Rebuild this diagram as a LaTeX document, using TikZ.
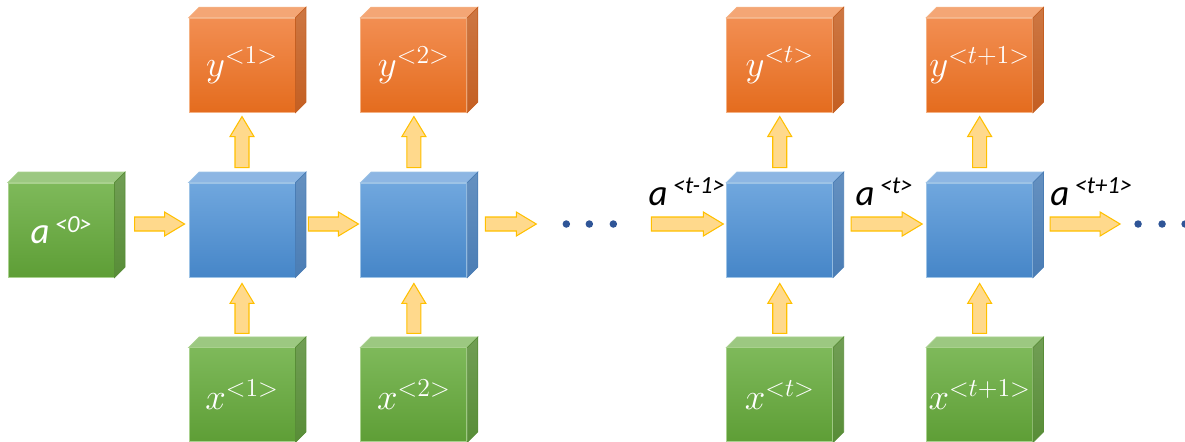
\documentclass[tikz,border=0pt]{standalone}
\usepackage{fix-cm}
\usepackage{fontspec}
\newfontfamily\calfont{Carlito}
\usetikzlibrary{positioning, calc}

\definecolor{orangehi}{HTML}{F28E52}
\definecolor{orangelo}{HTML}{E46C1E}
\definecolor{orangetop}{HTML}{F4A675}
\definecolor{orangeside}{HTML}{C45F22}
\definecolor{orangeedge}{HTML}{F4B183}
\definecolor{bluehi}{HTML}{70A7DE}
\definecolor{bluelo}{HTML}{4686C8}
\definecolor{bluetop}{HTML}{8DB6E3}
\definecolor{blueside}{HTML}{4A7DB5}
\definecolor{blueedge}{HTML}{9DC3E6}
\definecolor{greenhi}{HTML}{7EB95A}
\definecolor{greenlo}{HTML}{5E9E36}
\definecolor{greentop}{HTML}{9CC881}
\definecolor{greenside}{HTML}{588D37}
\definecolor{greenedge}{HTML}{A9D18E}
\definecolor{arrowfill}{HTML}{FFD98C}
\definecolor{arrowedge}{HTML}{FFC000}
\definecolor{dotblue}{HTML}{2F5597}

% top and right faces of a cube node
\newcommand\cubeside[2]{%
  \draw[fill=#2top, draw=#2edge, line width=0.4pt]
    (#1.north west) -- ++(0.21,0.21) -- ([shift={(0.21,0.21)}]#1.north east) -- (#1.north east) -- cycle;
  \draw[top color=#2side!85!white, bottom color=#2side, draw=#2side, line width=0.4pt]
    (#1.north east) -- ++(0.21,0.21) -- ([shift={(0.21,0.21)}]#1.south east) -- (#1.south east) -- cycle;}

% block arrow between two points
\newcommand\flowarrow[2]{%
  \path (#1) coordinate (fa-s) (#2) coordinate (fa-e);
  \draw[flow] let \p1=($(fa-e)-(fa-s)$), \n1={atan2(\y1,\x1)}, \n2={veclen(\x1,\y1)} in
    [shift={(fa-s)}, rotate=\n1]
    (0cm,-0.14cm) -- ({\n2-0.4cm},-0.14cm) -- ({\n2-0.4cm},-0.24cm) -- ({\n2},0cm)
    -- ({\n2-0.4cm},0.24cm) -- ({\n2-0.4cm},0.14cm) -- (0cm,0.14cm) -- cycle;}

% hidden state label a^<..>
\newcommand\astate[1]{{\fontsize{21}{21}\selectfont a}\hspace{3pt}\raisebox{6.5pt}{\fontsize{14}{14}\selectfont <#1>}}

\begin{document}
\begin{tikzpicture}[
    cube/.style={minimum width=2.12cm, minimum height=1.88cm, inner sep=0pt, text=white,
      top color=#1hi, bottom color=#1lo, draw=#1edge, line width=0.5pt,
      font=\fontsize{21}{24}\selectfont},
    flow/.style={fill=arrowfill, draw=arrowedge, line width=0.6pt, line join=miter},
    seqdot/.style={circle, fill=dotblue, inner sep=0pt, minimum size=0.15cm},
    alabel/.style={anchor=base west, inner sep=0pt, font=\calfont\itshape}
]
\useasboundingbox (0,0) rectangle (23.7,-8.82);

% hidden cells
\node[cube=blue] (b1) at (4.84,-4.6) {};
\node[cube=green, left=1.48cm of b1, font=\calfont\itshape] (a0) {\astate{0}};
\node[cube=blue, right=1.3cm of b1] (b2) {};
\node[cube=blue, right=5.18cm of b2] (bt) {};
\node[cube=blue, right=1.86cm of bt] (bt1) {};

% outputs
\node[cube=orange, above=1.4cm of b1] (y1) {$y^{<1>}$};
\node[cube=orange, above=1.4cm of b2] (y2) {$y^{<2>}$};
\node[cube=orange, above=1.4cm of bt] (yt) {$y^{<t>}$};
\node[cube=orange, above=1.4cm of bt1] (yt1) {$y^{<t+1>}$};

% inputs
\node[cube=green, below=1.4cm of b1] (x1) {$x^{<1>}$};
\node[cube=green, below=1.4cm of b2] (x2) {$x^{<2>}$};
\node[cube=green, below=1.4cm of bt] (xt) {$x^{<t>}$};
\node[cube=green, below=1.4cm of bt1] (xt1) {$x^{<t+1>}$};

\foreach \cb/\cc in {a0/green, b1/blue, b2/blue, bt/blue, bt1/blue,
    y1/orange, y2/orange, yt/orange, yt1/orange,
    x1/green, x2/green, xt/green, xt1/green}
  \cubeside{\cb}{\cc};

% vertical arrows
\foreach \s in {1,2,t,t1} {
  \flowarrow{[yshift=0.3cm]b\s.north}{[yshift=-0.08cm]y\s.south}
  \flowarrow{[yshift=0.28cm]x\s.north}{[yshift=-0.12cm]b\s.south}
}

% horizontal arrows
\coordinate (gapend) at ([shift={(1.38cm,0.12cm)}]b2.east);
\coordinate (gapstart) at ([shift={(-1.5cm,0.12cm)}]bt.west);
\coordinate (tailend) at ([shift={(1.74cm,0.12cm)}]bt1.east);
\flowarrow{[shift={(0.4cm,0.12cm)}]a0.east}{[shift={(-0.08cm,0.12cm)}]b1.west}
\flowarrow{[shift={(0.26cm,0.12cm)}]b1.east}{[shift={(-0.04cm,0.12cm)}]b2.west}
\flowarrow{[shift={(0.36cm,0.12cm)}]b2.east}{gapend}
\flowarrow{gapstart}{[shift={(-0.06cm,0.12cm)}]bt.west}
\flowarrow{[shift={(0.36cm,0.12cm)}]bt.east}{[shift={(-0.08cm,0.12cm)}]bt1.west}
\flowarrow{[shift={(0.34cm,0.12cm)}]bt1.east}{tailend}

% dots
\foreach \d [count=\i] in {1.98,2.44,2.92}
  \node[seqdot] (gapdot\i) at ([shift={(\d cm,0.12cm)}]b2.east) {};
\foreach \d [count=\i] in {2.1,2.58,3.04}
  \node[seqdot] (taildot\i) at ([shift={(\d cm,0.12cm)}]bt1.east) {};

% state labels
\node[alabel] (lbl-tm1) at ([shift={(-0.06cm,0.38cm)}]gapstart) {\astate{t-1}};
\node[alabel] (lbl-t) at ([shift={(0.44cm,0.5cm)}]bt.east) {\astate{t}};
\node[alabel] (lbl-tp1) at ([shift={(0.34cm,0.5cm)}]bt1.east) {\astate{t+1}};

\end{tikzpicture}
\end{document}
